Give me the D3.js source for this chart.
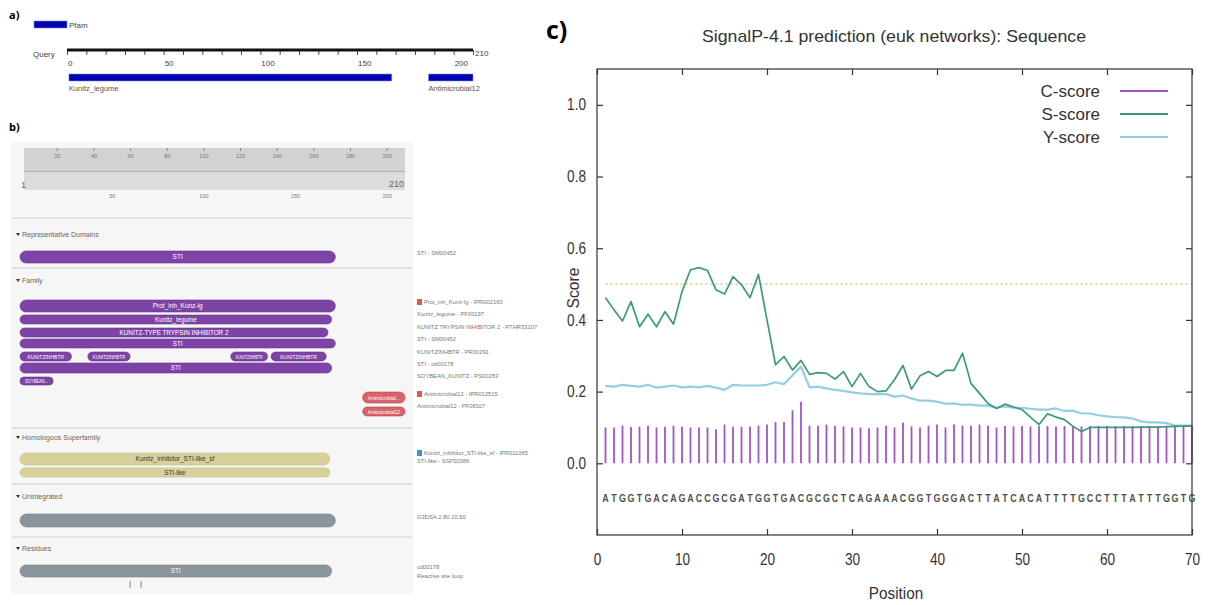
<!DOCTYPE html>
<html>
<head>
<meta charset="utf-8">
<script src="https://cdn.jsdelivr.net/npm/d3@7"></script>
<style>
  body { margin: 0; background: #fff; }
  svg { display: block; }
</style>
</head>
<body>
<div id="fig"></div>
<script>
// Composite figure: (a) Pfam domains, (b) InterPro tracks, (c) SignalP-4.1 scores.

// ---- panel a: Pfam ----
const pfamTickLabels = [0, 50, 100, 150, 200, 210];
const pfamNames  = ["Kunitz_legume", "Antimicrobial12"];
const pfamStarts = [1, 187];
const pfamEnds   = [168, 210];

// ---- panel b: InterPro ----
const iprTopTicks    = [20, 40, 60, 80, 100, 120, 140, 160, 180, 200];
const iprBottomTicks = [50, 100, 150, 200];
const iprSections = ["Representative Domains", "Family", "Homologous Superfamily", "Unintegrated", "Residues"];
const iprTrackSection = [0, 1, 1, 1, 1, 1, 1, 1, 1, 1, 1, 1, 1, 2, 2, 3, 4];
const iprTrackRow     = [0, 0, 1, 2, 3, 4, 4, 4, 4, 5, 6, 7, 8, 0, 1, 0, 0];
const iprTrackStart   = [1, 1, 1, 1, 1, 1, 38, 116, 138, 1, 1, 188, 188, 1, 1, 1, 1];
const iprTrackEnd     = [172, 172, 170, 168, 172, 28, 60, 135, 167, 170, 18, 210, 210, 169, 169, 172, 170];
const iprTrackKind    = ["domain", "family", "family", "family", "family", "family", "family", "family", "family",
                         "family", "family", "anti", "anti", "homol", "homol", "unint", "unint"];
const iprTrackLabel   = ["STI", "Prot_inh_Kunz-lg", "Kunitz_legume", "KUNITZ-TYPE TRYPSIN INHIBITOR 2", "STI",
                         "KUNITZINHBTR", "KUNITZINHBTR", "KUNITZINHBTR", "KUNITZINHBTR", "STI", "SOYBEAN...",
                         "Antimicrobial...", "Antimicrobial12", "Kunitz_inhibitor_STI-like_sf", "STI-like", "", "STI"];
const iprSideSection = [0, 1, 1, 1, 1, 1, 1, 1, 1, 1, 2, 2, 3, 4, 4];
const iprSideIcon    = ["", "red", "", "", "", "", "", "", "red", "", "blue", "", "", "", ""];
const iprSideText    = ["STI - SM00452", "Prot_inh_Kunz-lg - IPR002160", "Kunitz_legume - PF00197",
                        "KUNITZ TRYPSIN INHIBITOR 2 - PTHR33107", "STI - SM00452", "KUNITZINHBTR - PR00291",
                        "STI - cd00178", "SOYBEAN_KUNITZ - PS00283", "Antimicrobial12 - IPR012515",
                        "Antimicrobial12 - PF08107", "Kunitz_inhibitor_STI-like_sf - IPR011065",
                        "STI-like - SSF50386", "G3DSA:2.80.10.50", "cd00178", "Reactive site loop"];
const residueSites = [60, 66];

// ---- panel c: SignalP ----
const sequence = "ATGGTGACAGACCGCGATGGTGACGCGCTCAGAAACGGTGGGACTTATCACATTTTGCCTTTATTTGGTG".split("");
const cScore = [0.100,0.100,0.105,0.101,0.102,0.105,0.100,0.102,0.105,0.102,
                0.100,0.100,0.100,0.095,0.108,0.102,0.102,0.103,0.105,0.108,
                0.115,0.115,0.148,0.172,0.105,0.105,0.108,0.105,0.103,0.100,
                0.100,0.098,0.100,0.105,0.100,0.113,0.103,0.100,0.105,0.108,
                0.100,0.108,0.105,0.105,0.108,0.105,0.100,0.104,0.103,0.104,
                0.103,0.104,0.104,0.103,0.104,0.104,0.103,0.104,0.104,0.104,
                0.104,0.104,0.104,0.104,0.104,0.104,0.105,0.104,0.105,0.105];
const sScore = [0.462,0.428,0.397,0.451,0.381,0.416,0.381,0.423,0.388,0.479,
                0.540,0.546,0.538,0.484,0.472,0.521,0.498,0.462,0.527,0.400,
                0.275,0.298,0.260,0.287,0.248,0.253,0.251,0.235,0.256,0.214,
                0.251,0.214,0.200,0.202,0.233,0.273,0.207,0.244,0.256,0.242,
                0.259,0.259,0.307,0.223,0.195,0.167,0.153,0.165,0.157,0.150,
                0.129,0.108,0.138,0.129,0.122,0.103,0.089,0.100,0.100,0.100,
                0.100,0.100,0.100,0.101,0.101,0.101,0.102,0.103,0.104,0.104];
const yScore = [0.216,0.214,0.219,0.216,0.214,0.219,0.211,0.214,0.217,0.212,
                0.214,0.212,0.216,0.211,0.205,0.219,0.217,0.217,0.217,0.219,
                0.226,0.221,0.245,0.270,0.212,0.214,0.209,0.205,0.202,0.198,
                0.195,0.193,0.193,0.193,0.186,0.189,0.181,0.175,0.175,0.172,
                0.166,0.167,0.163,0.164,0.161,0.161,0.155,0.159,0.155,0.155,
                0.152,0.150,0.150,0.153,0.146,0.147,0.139,0.139,0.134,0.131,
                0.129,0.128,0.125,0.117,0.114,0.114,0.112,0.105,0.105,0.105];
const scoreTicks    = [0, 0.2, 0.4, 0.6, 0.8, 1.0];
const positionTicks = [0, 10, 20, 30, 40, 50, 60, 70];
const threshold = 0.5;
const legendNames = ["C-score", "S-score", "Y-score"];


const W = 1208, H = 605;
const svg = d3.select("#fig").append("svg").attr("width", W).attr("height", H);
svg.append("rect").attr("width", W).attr("height", H).attr("fill", "#fff");

const smallFont = "'Liberation Sans Narrow', 'Liberation Sans', sans-serif";
const plotFont  = "'Liberation Sans', Arial, sans-serif";

// squeeze text horizontally, the source figure is a bit narrower than normal glyphs
function condense(sel, factor) {
  sel.each(function () {
    const len = this.getComputedTextLength();
    d3.select(this).attr("textLength", len * factor).attr("lengthAdjust", "spacingAndGlyphs");
  });
}

// ====================== PANEL A ======================
const pa = svg.append("g");
pa.append("text").attr("x", 9).attr("y", 19)
  .attr("font-family", "'Open Sans', sans-serif").attr("font-weight", 700).attr("font-size", 11)
  .text("a)");

pa.append("rect").attr("x", 34).attr("y", 21).attr("width", 33).attr("height", 7)
  .attr("fill", "#0000b0").attr("stroke", "#6f86e8").attr("stroke-width", 0.6);
pa.append("text").attr("x", 69).attr("y", 28).attr("font-family", smallFont)
  .attr("font-size", 8).attr("fill", "#444").text("Pfam");

pa.append("text").attr("x", 33).attr("y", 57).attr("font-family", smallFont)
  .attr("font-size", 8).attr("fill", "#444").text("Query");

const pfamX = d3.scaleLinear().domain([0, 210]).range([67, 473]);

pa.append("g").attr("transform", "translate(0,50)")
  .call(d3.axisBottom(pfamX).tickValues(d3.range(0, 211, 10)).tickSize(5).tickFormat(""))
  .call(g => g.select(".domain").remove())
  .call(g => g.selectAll(".tick line").attr("stroke", "#222").attr("stroke-width", 0.8));
pa.append("line").attr("x1", pfamX(0)).attr("x2", pfamX(210)).attr("y1", 50).attr("y2", 50)
  .attr("stroke", "#111").attr("stroke-width", 3);

pfamTickLabels.forEach(t => {
  const last = t === 210;
  pa.append("text")
    .attr("x", last ? pfamX(t) + 2 : pfamX(t) + 1)
    .attr("y", last ? 56 : 66)
    .attr("font-family", smallFont).attr("font-size", 8).attr("fill", "#444")
    .text(t);
});

pfamNames.forEach((name, i) => {
  pa.append("rect")
    .attr("x", pfamX(pfamStarts[i]))
    .attr("y", 74)
    .attr("width", pfamX(pfamEnds[i]) - pfamX(pfamStarts[i]))
    .attr("height", 7)
    .attr("fill", "#0000b4").attr("stroke", "#7d95f0").attr("stroke-width", 0.6);
  pa.append("text").attr("x", pfamX(pfamStarts[i])).attr("y", 91)
    .attr("font-family", smallFont).attr("font-size", 7.5).attr("fill", "#555").text(name);
});

// ====================== PANEL B ======================
const pb = svg.append("g");
pb.append("text").attr("x", 9).attr("y", 131)
  .attr("font-family", "'Open Sans', sans-serif").attr("font-weight", 700).attr("font-size", 11)
  .text("b)");

pb.append("rect").attr("x", 11).attr("y", 142).attr("width", 402).attr("height", 452).attr("fill", "#f6f6f6");

const iprX = d3.scaleLinear().domain([1, 210]).range([22, 405]);

// ruler
pb.append("rect").attr("x", 24).attr("y", 148).attr("width", 381).attr("height", 24).attr("fill", "#d2d2d2");
pb.append("rect").attr("x", 24).attr("y", 172).attr("width", 381).attr("height", 18).attr("fill", "#dcdcdc");
pb.append("line").attr("x1", 24).attr("x2", 405).attr("y1", 171.5).attr("y2", 171.5)
  .attr("stroke", "#b4b4b4").attr("stroke-width", 1.2);

pb.append("g").attr("transform", "translate(0,148)")
  .call(d3.axisBottom(iprX).tickValues(iprTopTicks).tickSize(3).tickPadding(3))
  .call(g => g.select(".domain").remove())
  .call(g => g.selectAll(".tick line").attr("stroke", "#888"))
  .call(g => g.selectAll(".tick text").attr("fill", "#777").attr("font-size", 5.5).attr("font-family", smallFont));

pb.append("g").attr("transform", "translate(0,190)")
  .call(d3.axisBottom(iprX).tickValues(iprBottomTicks).tickSize(0).tickPadding(4))
  .call(g => g.select(".domain").remove())
  .call(g => g.selectAll(".tick text").attr("fill", "#777").attr("font-size", 5.5).attr("font-family", smallFont));

pb.append("text").attr("x", iprX(1) - 1).attr("y", 188).attr("font-family", smallFont)
  .attr("font-size", 9).attr("fill", "#666").text("1");
pb.append("text").attr("x", iprX(210) - 1).attr("y", 187).attr("text-anchor", "end").attr("font-family", smallFont)
  .attr("font-size", 9).attr("fill", "#666").text("210");

// section layout (positions only)
const sectionSep  = [218, 268, 428, 484, 537];
const sectionHead = [237, 283, 440, 499, 551];
const rowTop = [[251], [300, 315, 328, 339, 352, 363, 377, 392, 407], [453, 468], [514], [565]];
const rowH   = [[12],  [12,  9,   9,   9,   9,   10,  8,   11,  9],   [12, 9],   [13],  [12]];
const sideY  = [[255], [304, 316, 329, 341, 354, 366, 378, 396, 408], [455, 463], [519], [569, 578]];

const kindFill   = { domain: "#7d43a6", family: "#7d43a6", anti: "#d8636b", homol: "#d8d19c", unint: "#8a949b" };
const kindStroke = { domain: "#6a3590", family: "#6a3590", anti: "#b8464e", homol: "#c4bc82", unint: "#798289" };
const kindText   = { domain: "#fff", family: "#fff", anti: "#fff", homol: "#333", unint: "#fff" };

sectionSep.forEach(y => {
  pb.append("line").attr("x1", 12).attr("x2", 412).attr("y1", y).attr("y2", y)
    .attr("stroke", "#dcdcdc").attr("stroke-width", 1.5);
});
iprSections.forEach((name, s) => {
  pb.append("path")
    .attr("d", `M16,${sectionHead[s] - 4} l4,0 l-2,3 z`).attr("fill", "#333");
  pb.append("text").attr("x", 22).attr("y", sectionHead[s])
    .attr("font-family", smallFont).attr("font-size", 7).attr("fill", "#666").text(name);
});

iprTrackLabel.forEach((label, i) => {
  const s = iprTrackSection[i], r = iprTrackRow[i];
  const kind = iprTrackKind[i];
  const top = rowTop[s][r], h = rowH[s][r];
  const x0 = iprX(iprTrackStart[i]) - 2, x1 = iprX(iprTrackEnd[i]);
  pb.append("rect")
    .attr("x", x0).attr("y", top).attr("width", x1 - x0).attr("height", h)
    .attr("rx", h / 2).attr("ry", h / 2)
    .attr("fill", kindFill[kind]).attr("stroke", kindStroke[kind]).attr("stroke-width", 0.6);
  if (label) {
    const short = (x1 - x0) < 80;
    const t = pb.append("text").attr("x", (x0 + x1) / 2).attr("y", top + h / 2 + 2)
      .attr("text-anchor", "middle").attr("font-family", smallFont)
      .attr("font-size", short ? 5 : Math.min(6.5, h * 0.7)).attr("fill", kindText[kind])
      .text(label);
    const room = (x1 - x0) - 10;
    if (t.node().getComputedTextLength() > room) {
      t.attr("textLength", room).attr("lengthAdjust", "spacingAndGlyphs");
    }
  }
});

residueSites.forEach(p => {
  pb.append("line").attr("x1", iprX(p)).attr("x2", iprX(p)).attr("y1", 581).attr("y2", 588)
    .attr("stroke", "#666").attr("stroke-width", 0.8);
});

const sideCount = [0, 0, 0, 0, 0];
iprSideText.forEach((txt, i) => {
  const s = iprSideSection[i];
  const y = sideY[s][sideCount[s]++];
  let tx = 417;
  if (iprSideIcon[i]) {
    pb.append("rect").attr("x", 417).attr("y", y - 5).attr("width", 5).attr("height", 6)
      .attr("fill", iprSideIcon[i] === "red" ? "#e0574b" : "#3d8fd4");
    tx = 424;
  }
  pb.append("text").attr("x", tx).attr("y", y)
    .attr("font-family", smallFont).attr("font-size", 5.8).attr("fill", "#777").text(txt);
});

// ====================== PANEL C ======================
const pc = svg.append("g");
const x = d3.scaleLinear().domain([0, 70]).range([597, 1192]);
const y = d3.scaleLinear().domain([-0.2, 1.1]).range([535, 69]);

pc.append("text").attr("x", 546).attr("y", 39)
  .attr("font-family", "'Open Sans', sans-serif").attr("font-weight", 700).attr("font-size", 25)
  .text("c)");

pc.append("text").attr("x", 894).attr("y", 42).attr("text-anchor", "middle")
  .attr("font-family", plotFont).attr("font-size", 17).attr("fill", "#333")
  .attr("textLength", 384).attr("lengthAdjust", "spacingAndGlyphs")
  .text("SignalP-4.1 prediction (euk networks): Sequence");

// threshold
pc.append("line").attr("x1", x(1)).attr("x2", x(70)).attr("y1", y(threshold)).attr("y2", y(threshold))
  .attr("stroke", "#dccf8c").attr("stroke-width", 1.6).attr("stroke-dasharray", "2 3");

// C-score impulses
pc.append("g").selectAll("line").data(cScore).join("line")
  .attr("x1", (d, i) => x(i + 1)).attr("x2", (d, i) => x(i + 1))
  .attr("y1", y(0)).attr("y2", d => y(d))
  .attr("stroke", "#a154c8").attr("stroke-width", 1.8);

const line = d3.line().x((d, i) => x(i + 1)).y(d => y(d));
pc.append("path").datum(yScore).attr("d", line).attr("fill", "none")
  .attr("stroke", "#92cfe2").attr("stroke-width", 2.2).attr("stroke-linejoin", "round");
pc.append("path").datum(sScore).attr("d", line).attr("fill", "none")
  .attr("stroke", "#3b9b78").attr("stroke-width", 1.7).attr("stroke-linejoin", "round");

// sequence letters
pc.append("g").selectAll("text").data(sequence).join("text")
  .attr("x", (d, i) => x(i + 1)).attr("y", 502)
  .attr("text-anchor", "middle").attr("font-family", plotFont).attr("font-weight", 700)
  .attr("font-size", 10.5).attr("fill", "#505050")
  .text(d => d)
  .call(condense, 0.85);

// frame and ticks
pc.append("rect").attr("x", x(0)).attr("y", y(1.1)).attr("width", x(70) - x(0)).attr("height", y(-0.2) - y(1.1))
  .attr("fill", "none").attr("stroke", "#333").attr("stroke-width", 1.2);

const styleAxis = g => {
  g.select(".domain").remove();
  g.selectAll(".tick line").attr("stroke", "#333").attr("stroke-width", 1.2);
  g.selectAll(".tick text").attr("font-family", plotFont).attr("font-size", 16).attr("fill", "#333")
    .call(condense, 0.85);
};

pc.append("g").attr("transform", `translate(${x(0)},0)`)
  .call(d3.axisLeft(y).tickValues(scoreTicks).tickFormat(d3.format(".1f")).tickSize(-6).tickPadding(11))
  .call(styleAxis);
pc.append("g").attr("transform", `translate(${x(70)},0)`)
  .call(d3.axisRight(y).tickValues(scoreTicks).tickFormat("").tickSize(-6))
  .call(styleAxis);
pc.append("g").attr("transform", `translate(0,${y(-0.2)})`)
  .call(d3.axisBottom(x).tickValues(positionTicks).tickSize(-6).tickPadding(19))
  .call(styleAxis);
pc.append("g").attr("transform", `translate(0,${y(1.1)})`)
  .call(d3.axisTop(x).tickValues(positionTicks).tickFormat("").tickSize(-6))
  .call(styleAxis);

pc.append("text").attr("transform", "translate(579,288) rotate(-90)").attr("text-anchor", "middle")
  .attr("font-family", plotFont).attr("font-size", 17).attr("fill", "#333").text("Score")
  .call(condense, 0.92);
pc.append("text").attr("x", 896).attr("y", 599).attr("text-anchor", "middle")
  .attr("font-family", plotFont).attr("font-size", 17).attr("fill", "#333").text("Position")
  .call(condense, 0.9);

// legend
const legendColors = ["#a050c8", "#3b9b78", "#92cfe2"];
const legendY = [91, 114, 137];
legendNames.forEach((name, i) => {
  pc.append("text").attr("x", 1100).attr("y", legendY[i] + 6).attr("text-anchor", "end")
    .attr("font-family", plotFont).attr("font-size", 17).attr("fill", "#333").text(name);
  pc.append("line").attr("x1", 1120).attr("x2", 1168).attr("y1", legendY[i]).attr("y2", legendY[i])
    .attr("stroke", legendColors[i]).attr("stroke-width", 2);
});
</script>
</body>
</html>
